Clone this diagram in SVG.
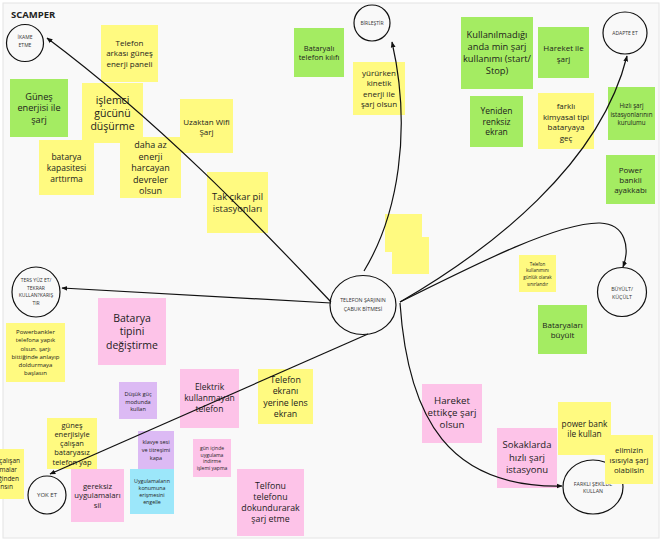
<svg xmlns="http://www.w3.org/2000/svg" width="663" height="544" viewBox="0 0 663 544">
<defs>
<marker id="ah" viewBox="0 0 10 10" refX="9" refY="5" markerWidth="6" markerHeight="6" markerUnits="userSpaceOnUse" orient="auto">
<path d="M0,1 L10,5 L0,9 z" fill="#111"/>
</marker>
</defs>
<style>
text{font-family:"Open Sans","Liberation Sans",sans-serif;text-anchor:middle;fill:#1c1c1c}
.y{fill:#fffa80}
.g{fill:#a4ec62}
.p{fill:#fdc3e8}
.v{fill:#dcbaf4}
.c{fill:#9ce7fa}
.circ{fill:none;stroke:#111;stroke-width:1.2}
.cl{font-size:5px;fill:#333}
.con{fill:none;stroke:#111;stroke-width:1.2;marker-end:url(#ah)}
</style>
<rect x="0" y="0" width="663" height="544" fill="#ffffff"/>
<rect x="3" y="3" width="656" height="535" fill="#f9f9f9" stroke="#e4e4e4" stroke-width="1"/>
<text x="11" y="18" style="text-anchor:start;font-size:9.5px;font-weight:bold;fill:#222">SCAMPER</text>

<g id="n-ikame"><ellipse class="circ" cx="25" cy="43" rx="18.5" ry="18.5"/><text class="cl" x="25" y="39.3">İKAME</text><text class="cl" x="25" y="46.8">ETME</text></g>
<g id="n-birlestir"><ellipse class="circ" cx="372" cy="23" rx="18" ry="18"/><text class="cl" x="372" y="24.8">BİRLEŞTİR</text></g>
<g id="n-adapte"><ellipse class="circ" cx="625" cy="33" rx="22" ry="21"/><text class="cl" x="625" y="34.8">ADAPTE ET</text></g>
<g id="n-ters"><ellipse class="circ" cx="36" cy="292" rx="24" ry="25"/><text class="cl" x="36" y="281.8">TERS YÜZ ET/</text><text class="cl" x="36" y="289.8">TEKRAR</text><text class="cl" x="36" y="297.3">KULLAN?KARIŞ</text><text class="cl" x="36" y="304.8">TIR</text></g>
<g id="n-merkez"><ellipse class="circ" cx="363" cy="305" rx="33" ry="29.5"/><text class="cl" x="363" y="301.9" style="font-size:5.3px">TELEFON ŞARJININ</text><text class="cl" x="363" y="310.9" style="font-size:5.3px">ÇABUK BİTMESİ</text></g>
<g id="n-buyult"><ellipse class="circ" cx="622" cy="292" rx="24.5" ry="24.5"/><text class="cl" x="622" y="291" style="font-size:5.3px">BÜYÜLT/</text><text class="cl" x="622" y="299" style="font-size:5.3px">KÜÇÜLT</text></g>
<g id="n-yoket"><ellipse class="circ" cx="47" cy="495" rx="19" ry="19"/><text class="cl" x="47" y="497.1" style="font-size:6px">YOK ET</text></g>
<g id="n-farkli"><ellipse class="circ" cx="593" cy="487" rx="30" ry="27"/><text class="cl" x="593" y="486" style="font-size:5.3px">FARKLI ŞEKİLDE</text><text class="cl" x="593" y="493" style="font-size:5.3px">KULLAN</text></g>

<g id="s1"><rect class="y" x="101" y="25" width="57" height="57"/><g style="font-size:8px"><text x="129.5" y="45.8">Telefon</text><text x="129.5" y="55.8">arkası güneş</text><text x="129.5" y="66.8">enerji paneli</text></g></g>
<g id="s2"><rect class="g" x="10" y="79" width="58" height="58"/><g style="font-size:9.2px"><text x="39" y="99.8">Güneş</text><text x="39" y="111.3">enerjisi ile</text><text x="39" y="122.8">şarj</text></g></g>
<g id="s3"><rect class="y" x="82" y="83" width="61" height="60"/><g style="font-size:10.5px"><text x="112.5" y="103.7">işlemci</text><text x="112.5" y="116.7">gücünü</text><text x="112.5" y="129.7">düşürme</text></g></g>
<g id="s4"><rect class="y" x="39" y="140" width="55" height="55"/><g style="font-size:8.5px"><text x="66.5" y="160">batarya</text><text x="66.5" y="171">kapasitesi</text><text x="66.5" y="182">arttırma</text></g></g>
<g id="s5"><rect class="y" x="180" y="99" width="53" height="54"/><g style="font-size:8px"><text x="206.5" y="124.8">Uzaktan Wifi</text><text x="206.5" y="134.8">Şarj</text></g></g>
<g id="s6"><rect class="y" x="120" y="137" width="61" height="61"/><g style="font-size:9px"><text x="150.5" y="148.2">daha az</text><text x="150.5" y="159.7">enerji</text><text x="150.5" y="171.2">harcayan</text><text x="150.5" y="182.7">devreler</text><text x="150.5" y="194.2">olsun</text></g></g>
<g id="s7"><rect class="y" x="207" y="172" width="61" height="61"/><g style="font-size:9.3px"><text x="237.5" y="199.8">Tak çıkar pil</text><text x="237.5" y="211.8">istasyonları</text></g></g>
<g id="s8"><rect class="g" x="294" y="28" width="50" height="49"/><g style="font-size:7.5px"><text x="319" y="50.6">Bataryalı</text><text x="319" y="59.6">telefon kılıfı</text></g></g>
<g id="s9"><rect class="y" x="353" y="62" width="52" height="53"/><g style="font-size:8px"><text x="379" y="75.8">yürürken</text><text x="379" y="86.3">kinetik</text><text x="379" y="96.8">enerji ile</text><text x="379" y="107.3">şarj olsun</text></g></g>
<g id="s10"><rect class="g" x="461" y="17" width="72" height="72"/><g style="font-size:9.3px"><text x="497" y="38.3">Kullanılmadığı</text><text x="497" y="50.3">anda min şarj</text><text x="497" y="62.3">kullanımı (start/</text><text x="497" y="74.3">Stop)</text></g></g>
<g id="s11"><rect class="g" x="538" y="27" width="51" height="51"/><g style="font-size:8px"><text x="563.5" y="50.8">Hareket ile</text><text x="563.5" y="61.8">şarj</text></g></g>
<g id="s12"><rect class="g" x="470" y="96" width="53" height="51"/><g style="font-size:8.5px"><text x="496.5" y="114">Yeniden</text><text x="496.5" y="124.5">renksiz</text><text x="496.5" y="135">ekran</text></g></g>
<g id="s13"><rect class="y" x="538" y="93" width="56" height="56"/><g style="font-size:8px"><text x="566" y="108.8">farklı</text><text x="566" y="119.5">kimyasal tipi</text><text x="566" y="130.1">bataryaya</text><text x="566" y="140.8">geç</text></g></g>
<g id="s14"><rect class="g" x="608" y="87" width="47" height="53"/><g style="font-size:6.2px"><text x="631.5" y="108.2">Hızlı şarj</text><text x="631.5" y="116.7">istasyonlarının</text><text x="631.5" y="125.2">kurulumu</text></g></g>
<g id="s15"><rect class="g" x="606" y="155" width="49" height="49"/><g style="font-size:8px"><text x="630.5" y="172.8">Power</text><text x="630.5" y="182.8">bankli</text><text x="630.5" y="192.8">ayakkabı</text></g></g>
<g id="s16"><rect class="p" x="98" y="298" width="68" height="67"/><g style="font-size:10.5px"><text x="132" y="321.7">Batarya</text><text x="132" y="335.2">tipini</text><text x="132" y="348.7">değiştirme</text></g></g>
<g id="s17"><rect class="y" x="6" y="323" width="59" height="59"/><g style="font-size:6px"><text x="35.5" y="334.1">Powerbankler</text><text x="35.5" y="342.3">telefona yapık</text><text x="35.5" y="350.5">olsun. şarjı</text><text x="35.5" y="358.7">bittiğinde anlayıp</text><text x="35.5" y="366.9">doldurmaya</text><text x="35.5" y="375.1">başlasın</text></g></g>
<g id="s18"><rect class="v" x="119" y="382" width="38" height="37"/><g style="font-size:5.6px"><text x="138" y="396">Düşük güç</text><text x="138" y="403.5">modunda</text><text x="138" y="411">kullan</text></g></g>
<g id="s19"><rect class="p" x="180" y="369" width="59" height="59"/><g style="font-size:8.5px"><text x="209.5" y="390">Elektrik</text><text x="209.5" y="401">kullanmayan</text><text x="209.5" y="412">telefon</text></g></g>
<g id="s20"><rect class="y" x="47" y="418" width="50" height="51"/><g style="font-size:7.5px"><text x="72" y="427.6">güneş</text><text x="72" y="436.9">enerjisiyle</text><text x="72" y="446.1">çalışan</text><text x="72" y="455.4">bataryasız</text><text x="72" y="464.6">telefon yap</text></g></g>
<g id="s21"><rect class="v" x="138" y="431" width="36" height="38"/><g style="font-size:5.5px"><text x="156" y="443.9">klavye sesi</text><text x="156" y="451.9">ve titreşimi</text><text x="156" y="459.9">kapa</text></g></g>
<g id="s22"><rect class="c" x="130" y="469" width="44" height="45"/><g style="font-size:5.3px"><text x="152" y="482.9">Uygulamaların</text><text x="152" y="489.9">konumuna</text><text x="152" y="496.9">erişmesini</text><text x="152" y="503.9">engelle</text></g></g>
<g id="s23"><rect class="p" x="71" y="469" width="53" height="53"/><g style="font-size:7.7px"><text x="97.5" y="488.6">gereksiz</text><text x="97.5" y="498.1">uygulamaları</text><text x="97.5" y="507.6">sil</text></g></g>
<g id="s24"><rect class="p" x="193" y="439" width="38" height="38"/><g style="font-size:5px"><text x="212" y="449.8">gün içinde</text><text x="212" y="456.5">uygulama</text><text x="212" y="463.1">indirme</text><text x="212" y="469.8">işlemi yapma</text></g></g>
<g id="s25"><rect class="p" x="237" y="469" width="67" height="67"/><g style="font-size:8.8px"><text x="270.5" y="489">Telfonu</text><text x="270.5" y="500">telefonu</text><text x="270.5" y="511">dokundurarak</text><text x="270.5" y="522">şarj etme</text></g></g>
<g id="s26"><rect class="y" x="258" y="369" width="55" height="55"/><g style="font-size:8.8px"><text x="285.5" y="383">Telefon</text><text x="285.5" y="394.4">ekranı</text><text x="285.5" y="405.8">yerine lens</text><text x="285.5" y="417.1">ekran</text></g></g>
<g id="s27a"><rect class="y" x="385" y="214" width="37" height="38"/></g>
<g id="s27b"><rect class="y" x="392" y="237" width="37" height="37"/></g>
<g id="s28"><rect class="y" x="519" y="255" width="37" height="37"/><g style="font-size:4.5px"><text x="537.5" y="265.6">Telefon</text><text x="537.5" y="272.3">kullanımını</text><text x="537.5" y="278.9">günlük olarak</text><text x="537.5" y="285.6">sınırlandır</text></g></g>
<g id="s29"><rect class="g" x="538" y="305" width="49" height="49"/><g style="font-size:8px"><text x="562.5" y="327.8">Bataryaları</text><text x="562.5" y="337.8">büyült</text></g></g>
<g id="s30"><rect class="p" x="422" y="384" width="60" height="59"/><g style="font-size:9.7px"><text x="452" y="404.4">Hareket</text><text x="452" y="416.4">ettikçe şarj</text><text x="452" y="428.4">olsun</text></g></g>
<g id="s31"><rect class="p" x="497" y="428" width="60" height="60"/><g style="font-size:9.5px"><text x="527" y="448.3">Sokaklarda</text><text x="527" y="460.8">hızlı şarj</text><text x="527" y="473.3">istasyonu</text></g></g>
<g id="s32"><rect class="y" x="558" y="402" width="53" height="53"/><g style="font-size:8.3px"><text x="584.5" y="426.9">power bank</text><text x="584.5" y="436.9">ile kullan</text></g></g>
<g id="s33"><rect class="y" x="605" y="435" width="48" height="49"/><g style="font-size:7.8px"><text x="629" y="452.7">elimizin</text><text x="629" y="462.7">ısısıyla şarj</text><text x="629" y="472.7">olabilsin</text></g></g>
<g id="s34"><rect class="y" x="0" y="449" width="24" height="50"/><g style="font-size:6.5px"><text x="20" y="463.3" style="text-anchor:end">çalışan</text><text x="17" y="472.3" style="text-anchor:end">malar</text><text x="19" y="481.3" style="text-anchor:end">ğinden</text><text x="13" y="489.3" style="text-anchor:end">nsın</text></g></g>

<g id="connectors">
<path class="con" d="M331,302 C 270,238 170,130 47,38"/>
<path class="con" d="M364,271 C 398,215 412,130 392,42"/>
<path class="con" d="M400,302 C 490,250 600,165 627,56"/>
<path class="con" d="M400,302 C 480,262 560,222 600,223 C 626,224 630,248 623,267"/>
<path class="con" d="M331,303 L62,288"/>
<path class="con" d="M368,334 L50,474"/>
<path class="con" d="M400,303 C 408,420 450,488 562,486"/>
</g>
</svg>
